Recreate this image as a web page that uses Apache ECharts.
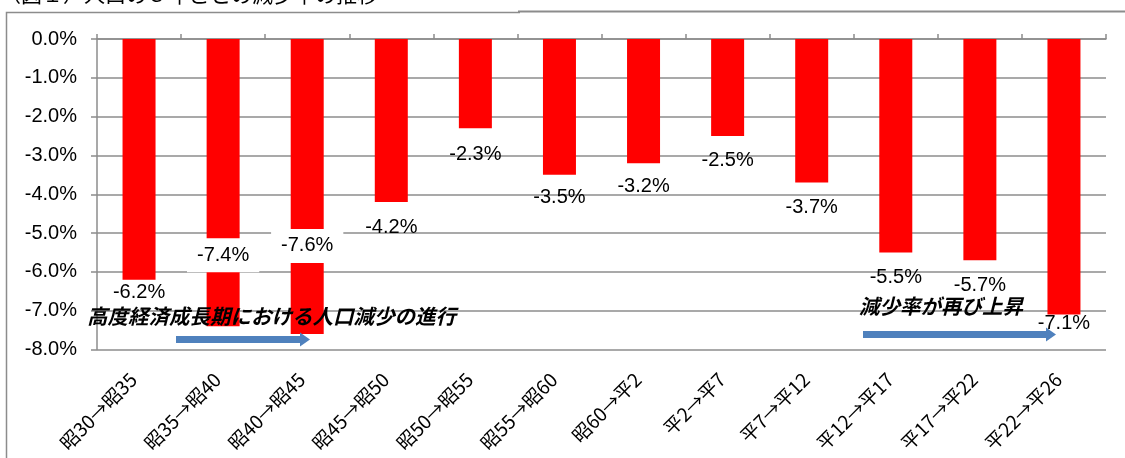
<!DOCTYPE html>
<html>
<head>
<meta charset="utf-8">
<script src="https://cdn.jsdelivr.net/npm/echarts@6/dist/echarts.min.js"></script>
<style>
html,body{margin:0;padding:0;background:#fff;}
#chart{width:1125px;height:458px;}
</style>
</head>
<body>
<div id="chart"></div>
<script>
// ---- data ----
const categories = ['昭30→昭35','昭35→昭40','昭40→昭45','昭45→昭50','昭50→昭55','昭55→昭60','昭60→平2','平2→平7','平7→平12','平12→平17','平17→平22','平22→平26'];
const declineRate = [-6.2, -7.4, -7.6, -4.2, -2.3, -3.5, -3.2, -2.5, -3.7, -5.5, -5.7, -7.1];
const yTicks = { min: -8, max: 0, step: 1 };
const titleText = '（図１）人口の５年ごとの減少率の推移';
const note1 = '高度経済成長期における人口減少の進行';
const note2 = '減少率が再び上昇';

// ---- label styling (not data) ----
const labelStyle = [
  {position:'bottom', distance:3},
  {position:'insideBottom', distance:54, boxed:true},
  {position:'insideBottom', distance:71, boxed:true},
  {position:'bottom', distance:15},
  {position:'bottom', distance:16},
  {position:'bottom', distance:13},
  {position:'bottom', distance:13},
  {position:'bottom', distance:14},
  {position:'bottom', distance:15},
  {position:'bottom', distance:15},
  {position:'bottom', distance:15},
  {position:'bottom', distance:-1}
];

const gray = '#8c8c8c';
const numFont = 'Liberation Sans';
const jpFont = '"Noto Sans CJK JP"';

const barData = declineRate.map((v, i) => {
  const s = labelStyle[i];
  const lab = { position: s.position, distance: s.distance };
  if (s.boxed) { lab.backgroundColor = '#fff'; lab.padding = [7, 10]; }
  return { value: v, label: lab };
});

const chart = echarts.init(document.getElementById('chart'));
chart.setOption({
  animation: false,
  backgroundColor: '#fff',
  grid: { left: 97, top: 39, width: 1009, height: 310.5, containLabel: false },
  xAxis: [
    {
      type: 'category', data: categories, position: 'bottom',
      axisLine: { show: false }, axisTick: { show: false },
      axisLabel: { rotate: 45, interval: 0, margin: 21, padding: [0, 8, 0, 0], fontSize: 19, fontFamily: jpFont, color: '#000' }
    },
    {
      type: 'category', data: categories, position: 'top',
      axisLine: { show: true, lineStyle: { color: gray, width: 1.5 } },
      axisTick: { show: true, length: 5, lineStyle: { color: gray, width: 1.5 } },
      axisLabel: { show: false }
    }
  ],
  yAxis: {
    type: 'value', min: yTicks.min, max: yTicks.max, interval: yTicks.step,
    axisLine: { show: true, lineStyle: { color: gray, width: 1.5 } },
    axisTick: { show: true, length: 6, lineStyle: { color: gray, width: 1.5 } },
    splitLine: { show: true, lineStyle: { color: gray, width: 1.5 } },
    axisLabel: { formatter: v => v.toFixed(1) + '%', fontSize: 20, fontFamily: numFont, color: '#000', margin: 20 }
  },
  series: [{
    type: 'bar', xAxisIndex: 0, data: barData, barWidth: 33,
    itemStyle: { color: '#ff0000' },
    label: { show: true, formatter: p => p.value.toFixed(1) + '%', fontSize: 20, fontFamily: numFont, color: '#000' },
    z: 3
  }],
  graphic: [
    { type: 'polyline', shape: { points: [[6.5, 458], [6.5, 12.5], [520, 12.5]] }, style: { stroke: gray, lineWidth: 1.5, fill: null }, silent: true },
    { type: 'line', shape: { x1: 518, y1: 11.5, x2: 1125, y2: 11.5 }, style: { stroke: gray, lineWidth: 2 }, silent: true },
    { type: 'text', left: 0, top: -16, style: { text: titleText, font: '21px ' + jpFont, fill: '#000' }, silent: true },
    { type: 'text', left: 87, top: 306, z: 10, style: { text: note1, font: 'italic bold 20.5px ' + jpFont, fill: '#000' }, silent: true },
    { type: 'text', left: 859, top: 296, z: 10, style: { text: note2, font: 'italic bold 20.5px ' + jpFont, fill: '#000' }, silent: true },
    { type: 'polygon', z: 10, shape: { points: [[176, 336], [300, 336], [300, 332.5], [310, 339.5], [300, 346.5], [300, 343], [176, 343]] }, style: { fill: '#4f81bd' }, silent: true },
    { type: 'polygon', z: 10, shape: { points: [[863, 331], [1046, 331], [1046, 327.5], [1056, 334.5], [1046, 341.5], [1046, 338], [863, 338]] }, style: { fill: '#4f81bd' }, silent: true }
  ]
});
</script>
</body>
</html>
